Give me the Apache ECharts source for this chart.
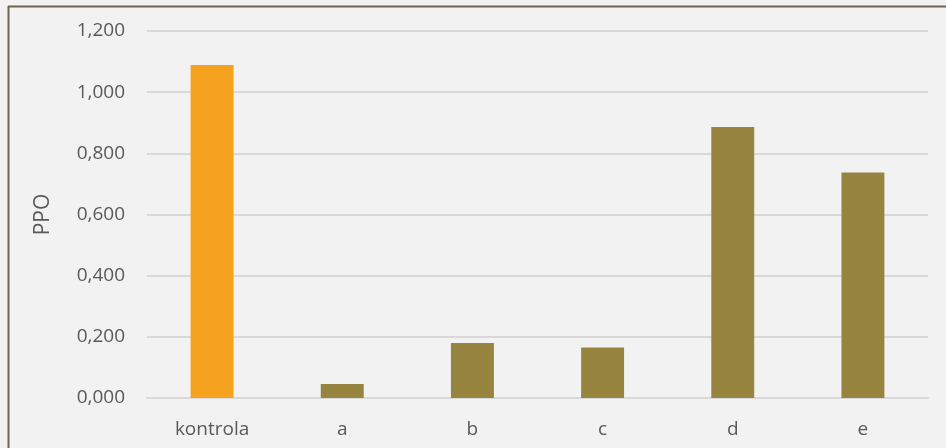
<!DOCTYPE html>
<html lang="cs">
<head>
    <meta charset="UTF-8">
    <script src="https://cdn.jsdelivr.net/npm/echarts@6/dist/echarts.min.js"></script>
    <style>
        html, body { margin: 0; padding: 0; background: #f2f2f2; }
        #chart { width: 946px; height: 448px; }
    </style>
</head>
<body>
<div id="chart"></div>
<script>
    var categories = ['kontrola', 'a', 'b', 'c', 'd', 'e'];
    var ppoValues = [1.089, 0.046, 0.180, 0.165, 0.886, 0.737];
    var barColors = ['#f5a31e', '#96843f', '#96843f', '#96843f', '#96843f', '#96843f'];
    var yTicks = [0, 0.2, 0.4, 0.6, 0.8, 1.0, 1.2];

    var chart = echarts.init(document.getElementById('chart'));

    var option = {
        backgroundColor: '#f2f2f2',
        textStyle: { fontFamily: 'Open Sans' },
        graphic: [
            // ramecek jen nahore a vlevo
            { type: 'line', shape: { x1: 8, y1: 6.5, x2: 946, y2: 6.5 }, style: { stroke: '#6e6551', lineWidth: 2 } },
            { type: 'line', shape: { x1: 8.5, y1: 6, x2: 8.5, y2: 448 }, style: { stroke: '#6e6551', lineWidth: 2 } }
        ],
        grid: { left: 147, right: 18, top: 31, bottom: 50, containLabel: false },
        xAxis: {
            type: 'category',
            data: categories,
            axisLine: { lineStyle: { color: '#d9d9d9', width: 2 } },
            axisTick: { show: false },
            axisLabel: { color: '#595959', fontSize: 19, margin: 22 }
        },
        yAxis: {
            type: 'value',
            min: 0,
            max: yTicks[yTicks.length - 1],
            interval: 0.2,
            name: 'PPO',
            nameLocation: 'middle',
            nameGap: 93,
            nameTextStyle: { color: '#595959', fontSize: 21 },
            axisLine: { show: false },
            axisTick: { show: false },
            splitLine: { lineStyle: { color: '#d9d9d9', width: 2 } },
            axisLabel: {
                color: '#595959',
                fontSize: 19,
                margin: 22,
                formatter: function (v) { return v.toFixed(3).replace('.', ','); }
            }
        },
        series: [{
            type: 'bar',
            data: ppoValues.map(function (v, i) {
                return { value: v, itemStyle: { color: barColors[i] } };
            }),
            barWidth: '33%',
            silent: true
        }]
    };
    chart.setOption(option);
</script>
</body>
</html>
